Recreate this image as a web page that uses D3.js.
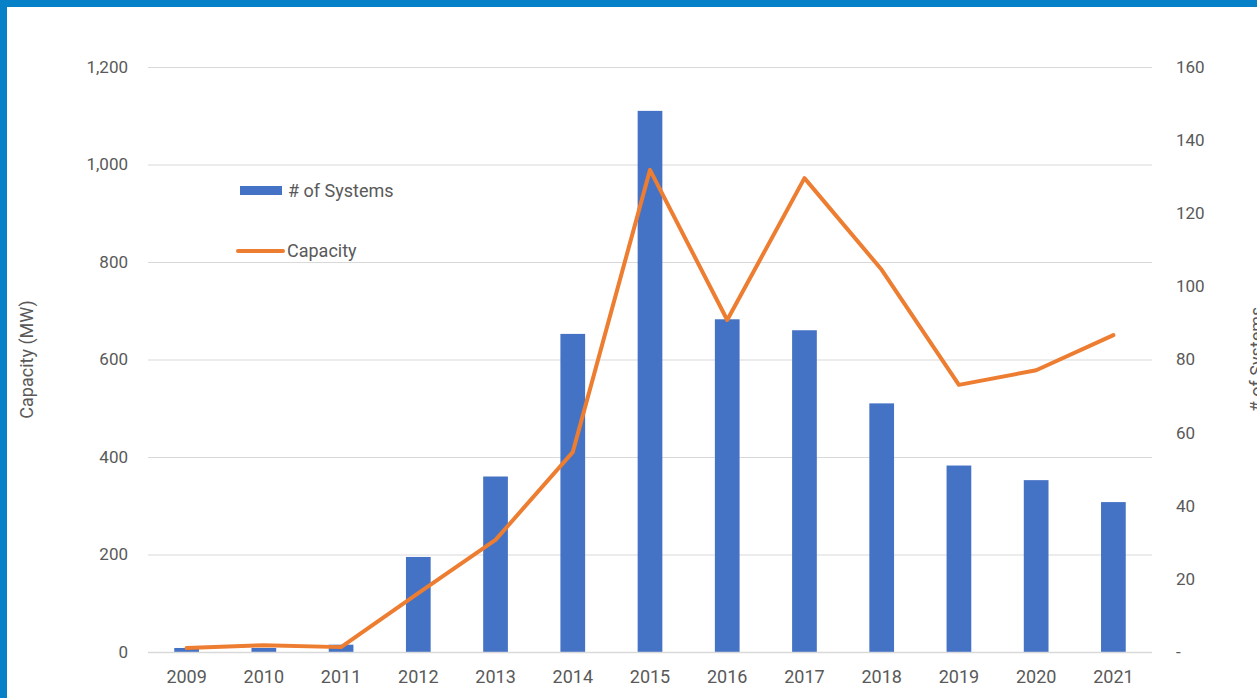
<!DOCTYPE html>
<html>
<head>
<meta charset="utf-8">
<script src="https://cdn.jsdelivr.net/npm/d3@7"></script>
<style>
  html, body { margin: 0; padding: 0; background: #fff; }
  svg { display: block; }
  text { font-family: Roboto, "Noto Sans", sans-serif; fill: #595959; }
</style>
</head>
<body>
<svg id="chart" width="1257" height="698"></svg>
<script>
const years = ["2009","2010","2011","2012","2013","2014","2015","2016","2017","2018","2019","2020","2021"];
const systems = [1.1, 1.1, 2, 26, 48, 87, 148, 91, 88, 68, 51, 47, 41];
const capacity = [8, 14, 10, 121, 230, 410, 989, 681, 972, 784, 548, 578, 650];
const leftTicks = [0, 200, 400, 600, 800, 1000, 1200];
const rightTicks = [0, 20, 40, 60, 80, 100, 120, 140, 160];

(function () {
const svg = d3.select("#chart");
const W = 1257, H = 698;
const pL = 148, pR = 1152, pT = 67, pB = 652;

// frame
svg.append("rect").attr("x", 0).attr("y", 0).attr("width", W).attr("height", 7).attr("fill", "#0680c6");
svg.append("rect").attr("x", 0).attr("y", 0).attr("width", 7).attr("height", H).attr("fill", "#0680c6");

const x = d3.scaleBand().domain(years).range([pL, pR]).paddingInner(0.68).paddingOuter(0.34);
const yL = d3.scaleLinear().domain([0, 1200]).range([pB, pT]);
const yR = d3.scaleLinear().domain([0, 160]).range([pB, pT]);

// gridlines
svg.append("g").selectAll("line").data(leftTicks.filter(d => d > 0)).join("line")
  .attr("x1", pL).attr("x2", pR)
  .attr("y1", d => yL(d) + 0.5).attr("y2", d => yL(d) + 0.5)
  .attr("stroke", "#d9d9d9").attr("stroke-width", 1);

// left axis
const gL = svg.append("g").attr("transform", `translate(${pL - 20},0)`)
  .call(d3.axisLeft(yL).tickValues(leftTicks).tickSize(0).tickPadding(0).tickFormat(d3.format(",")));
gL.select(".domain").remove();
gL.selectAll("text").style("font-size", "17px").attr("fill", "#595959")
  .style("font-family", "Roboto, 'Noto Sans', sans-serif");

// right axis
const gR = svg.append("g").attr("transform", `translate(${pR + 24},0)`)
  .call(d3.axisRight(yR).tickValues(rightTicks).tickSize(0).tickPadding(0).tickFormat(d => d === 0 ? "-" : d));
gR.select(".domain").remove();
gR.selectAll("text").style("font-size", "17px").attr("fill", "#595959")
  .style("font-family", "Roboto, 'Noto Sans', sans-serif");

// bars
svg.append("g").selectAll("rect").data(years).join("rect")
  .attr("x", d => x(d))
  .attr("width", x.bandwidth())
  .attr("y", (d, i) => yR(systems[i]))
  .attr("height", (d, i) => pB - yR(systems[i]))
  .attr("fill", "#4472c4");

// baseline
svg.append("line").attr("x1", pL).attr("x2", pR)
  .attr("y1", pB + 0.5).attr("y2", pB + 0.5)
  .attr("stroke", "#d9d9d9").attr("stroke-width", 1.5);

// x axis
const gX = svg.append("g").attr("transform", `translate(0,${pB + 18})`)
  .call(d3.axisBottom(x).tickSize(0).tickPadding(0));
gX.select(".domain").remove();
gX.selectAll("text").style("font-size", "18px").attr("fill", "#595959").attr("dy", "0.71em")
  .style("font-family", "Roboto, 'Noto Sans', sans-serif");

// line
const line = d3.line().x((d, i) => x(years[i]) + x.bandwidth() / 2).y(d => yL(d));
svg.append("path").datum(capacity).attr("d", line)
  .attr("fill", "none").attr("stroke", "#ed7d31").attr("stroke-width", 4)
  .attr("stroke-linejoin", "round").attr("stroke-linecap", "round");

// axis titles
svg.append("text").attr("transform", `translate(33,${(pT + pB) / 2}) rotate(-90)`)
  .attr("text-anchor", "middle").style("font-size", "18px").text("Capacity (MW)");
svg.append("text").attr("transform", `translate(1263,${(pT + pB) / 2}) rotate(-90)`)
  .attr("text-anchor", "middle").style("font-size", "18px").text("# of Systems");

// legend
const lg = svg.append("g");
lg.append("rect").attr("x", 240).attr("y", 186).attr("width", 42).attr("height", 9).attr("fill", "#4472c4");
lg.append("text").attr("x", 288).attr("y", 191).attr("dy", "0.35em").style("font-size", "18px").text("# of Systems");
lg.append("line").attr("x1", 238).attr("x2", 283).attr("y1", 251).attr("y2", 251)
  .attr("stroke", "#ed7d31").attr("stroke-width", 4).attr("stroke-linecap", "round");
lg.append("text").attr("x", 287).attr("y", 251).attr("dy", "0.35em").style("font-size", "18px").text("Capacity");
})();
</script>
</body>
</html>
